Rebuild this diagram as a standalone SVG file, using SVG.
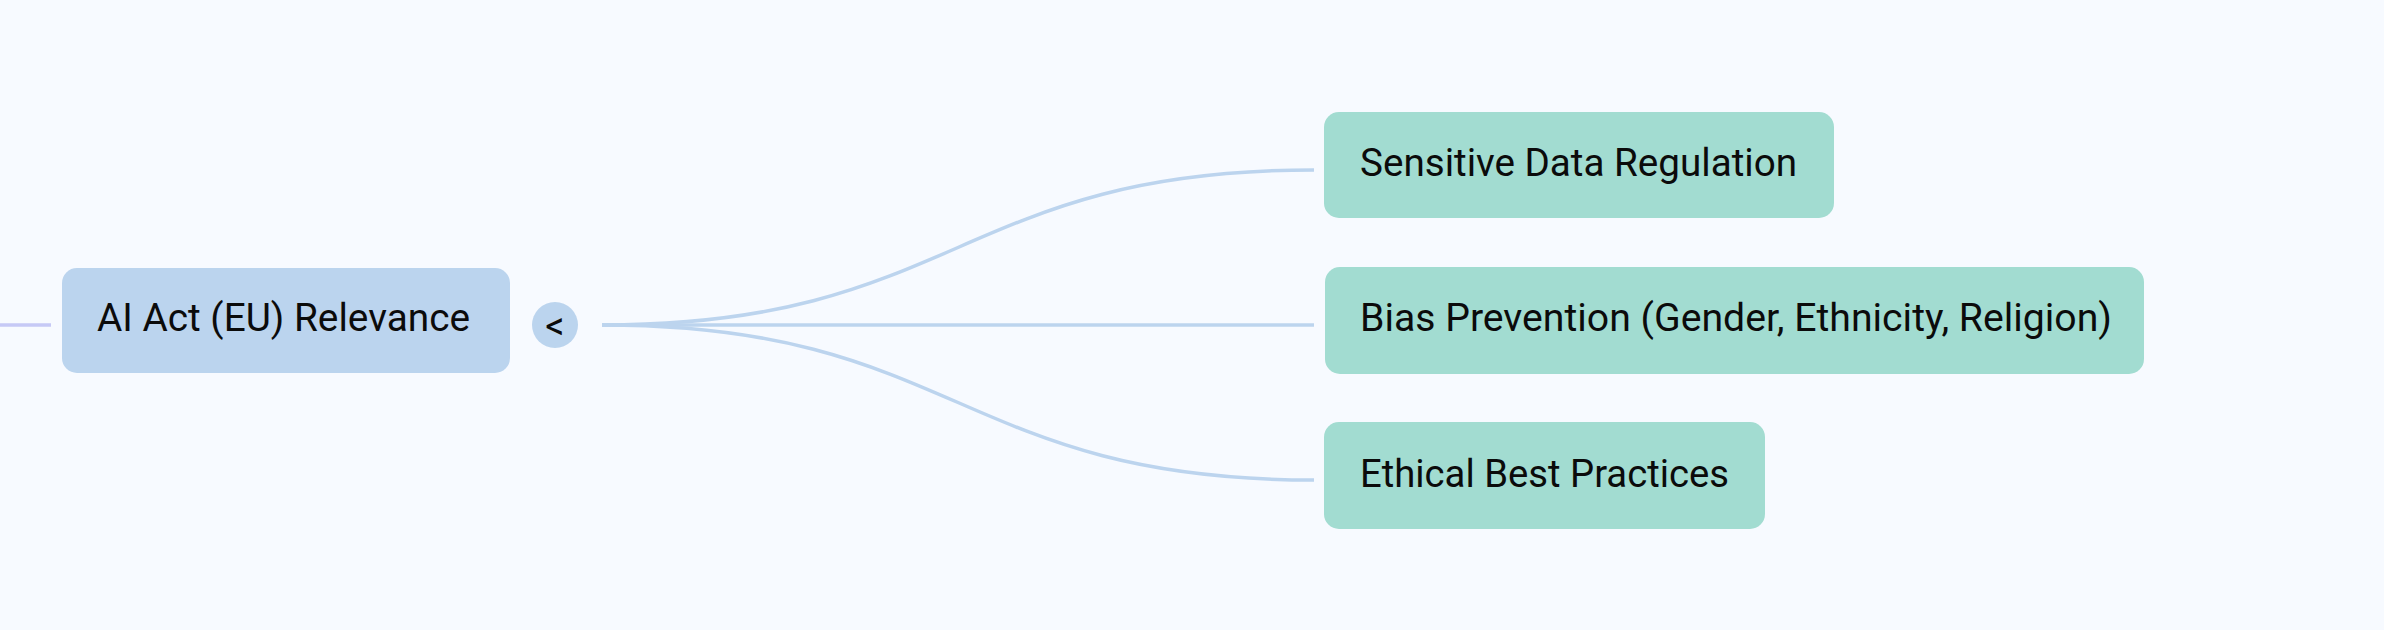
<svg xmlns="http://www.w3.org/2000/svg" width="2384" height="630" viewBox="0 0 2384 630">
<style>
.bg{fill:#f7faff}
.root{fill:#bbd4ee}
.child{fill:#a2dcd1}
.label{font-family:Roboto,"Liberation Sans",sans-serif;font-size:38.5px;fill:#0b0b0b}
.conn{fill:none;stroke:#bcd4ee;stroke-width:3.5}
.lead{fill:none;stroke:#c6c9f6;stroke-width:3.5}
.toggle{fill:#bbd4ee}
.toggletext{font-family:Roboto,"Liberation Sans",sans-serif;font-size:38px;fill:#0b0b0b}
</style>
<rect class="bg" x="0" y="0" width="2384" height="630"/>
<g id="connectors">
<line class="lead" x1="0" y1="325" x2="51" y2="325"/>
<path class="conn" d="M602,325 C958,325 958,170 1314,170"/>
<path class="conn" d="M602,325 L1314,325"/>
<path class="conn" d="M602,325 C958,325 958,480 1314,480"/>
</g>
<g id="node-root">
<rect class="root" x="62" y="268" width="448" height="105" rx="15"/>
<text class="label" x="97" y="331" textLength="373" lengthAdjust="spacingAndGlyphs">AI Act (EU) Relevance</text>
</g>
<g id="toggle-root">
<circle class="toggle" cx="555" cy="325" r="23"/>
<text class="toggletext" x="555" y="339" text-anchor="middle">&lt;</text>
</g>
<g id="node-sensitive">
<rect class="child" x="1324" y="112" width="510" height="106" rx="15"/>
<text class="label" x="1360" y="176" textLength="437" lengthAdjust="spacingAndGlyphs">Sensitive Data Regulation</text>
</g>
<g id="node-bias">
<rect class="child" x="1325" y="267" width="819" height="107" rx="15"/>
<text class="label" x="1360" y="331" textLength="752" lengthAdjust="spacingAndGlyphs">Bias Prevention (Gender, Ethnicity, Religion)</text>
</g>
<g id="node-ethical">
<rect class="child" x="1324" y="422" width="441" height="107" rx="15"/>
<text class="label" x="1360" y="487" textLength="369" lengthAdjust="spacingAndGlyphs">Ethical Best Practices</text>
</g>
</svg>
